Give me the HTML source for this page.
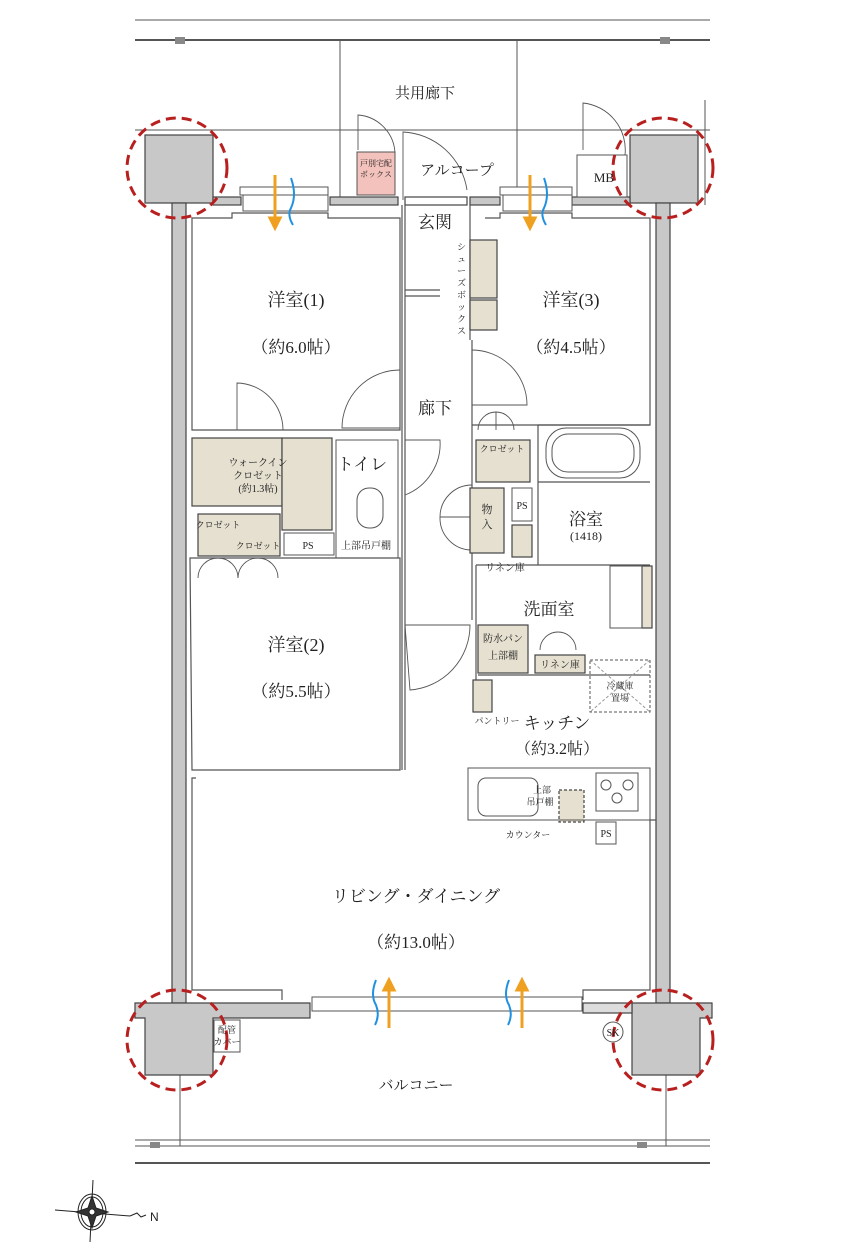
<!DOCTYPE html>
<html><head><meta charset="utf-8"><style>
html,body{margin:0;padding:0;background:#fff}
svg{display:block}
text{font-family:"Liberation Serif","Noto Serif CJK SC",serif;fill:#222}
.s{font-family:"Liberation Sans","Noto Sans CJK JP",sans-serif}
</style></head><body>
<svg width="850" height="1250" viewBox="0 0 850 1250" xmlns="http://www.w3.org/2000/svg">
<g stroke="#555" fill="none" stroke-width="1">
<line x1="135" y1="20" x2="710" y2="20"/><line x1="135" y1="40" x2="710" y2="40" stroke-width="2"/>
<line x1="135" y1="130" x2="710" y2="130"/>
<line x1="340" y1="40" x2="340" y2="200"/><line x1="517" y1="40" x2="517" y2="200"/>
<line x1="705" y1="100" x2="705" y2="205"/>
<line x1="135" y1="1140" x2="710" y2="1140"/><line x1="135" y1="1146" x2="710" y2="1146" stroke="#aaa" stroke-width="2"/>
<line x1="135" y1="1163" x2="710" y2="1163" stroke-width="2"/>
<line x1="180" y1="1075" x2="180" y2="1146"/><line x1="666" y1="1075" x2="666" y2="1146"/>
</g>
<rect x="175" y="37" width="10" height="7" fill="#888"/><rect x="660" y="37" width="10" height="7" fill="#888"/>
<rect x="150" y="1142" width="10" height="6" fill="#888"/><rect x="637" y="1142" width="10" height="6" fill="#888"/>
<g fill="#c8c8c8" stroke="#444" stroke-width="1.2">
<rect x="145" y="135" width="68" height="68"/>
<rect x="630" y="135" width="68" height="68"/>
<rect x="172" y="203" width="14" height="800"/>
<rect x="656" y="203" width="14" height="800"/>
<path d="M135 1003 L310 1003 L310 1018 L213 1018 L213 1075 L145 1075 L145 1018 L135 1018 Z"/>
<path d="M632 1003 L712 1003 L712 1018 L700 1018 L700 1075 L632 1075 Z"/>
<rect x="213" y="197" width="28" height="8"/><rect x="330" y="197" width="68" height="8"/>
<rect x="405" y="197" width="62" height="8" fill="#fff"/>
<rect x="470" y="197" width="30" height="8"/><rect x="572" y="197" width="58" height="8"/>
<rect x="583" y="1003" width="49" height="10" fill="#ddd"/>
</g>
<g stroke="#555" fill="#fff">
<rect x="240" y="187" width="88" height="8"/><rect x="243" y="195" width="85" height="16"/>
<rect x="500" y="187" width="72" height="8"/><rect x="503" y="195" width="69" height="16"/>
<rect x="312" y="997" width="270" height="14"/>
</g>
<g stroke="#555" fill="none" stroke-width="1.2">
<path d="M192 218 L232 218 L232 213 L328 213 L328 218 L400 218 L400 430 L192 430 Z"/>
<path d="M485 218 L500 218 L500 213 L572 213 L572 218 L650 218 L650 425 L540 425 L472 425"/>
<line x1="402" y1="205" x2="402" y2="770"/><line x1="405" y1="205" x2="405" y2="770"/>
<line x1="470" y1="205" x2="470" y2="340"/><line x1="472" y1="340" x2="472" y2="620"/>
<line x1="405" y1="290" x2="440" y2="290"/><line x1="405" y1="296" x2="440" y2="296"/>
<path d="M190 558 L400 558 L400 770 L192 770 Z"/>
<path d="M196 778 L192 778 L192 990 L282 990 L282 1000"/>
<path d="M656 820 L650 820 L650 990 L583 990 L583 1000"/>
<line x1="476" y1="565" x2="650" y2="565"/>
<line x1="476" y1="565" x2="476" y2="680"/>
<line x1="538" y1="425" x2="538" y2="565"/><line x1="538" y1="425" x2="650" y2="425"/>
<line x1="538" y1="482" x2="650" y2="482"/>
<line x1="478" y1="675" x2="650" y2="675"/>
</g>
<g stroke="#555" fill="none" stroke-width="0.9">
<path d="M358 150 L358 115 A40 40 0 0 1 395 155"/><path d="M403 200 L403 132 A68 68 0 0 1 467 190"/>
<path d="M583 150 L583 103 A47 47 0 0 1 625 155"/>
<path d="M400 370 A58 58 0 0 0 342 428 L400 428"/>
<path d="M237 430 L237 383 A47 47 0 0 1 283 430"/>
<path d="M405 440 L440 440 A55 55 0 0 1 405 495"/>
<path d="M472 350 A55 55 0 0 1 527 405 L472 405"/>
<path d="M472 485 A32 32 0 0 0 440 517 L472 517 M472 550 A32 32 0 0 1 440 517"/>
<path d="M405 625 L470 625 A65 65 0 0 1 410 690 Z"/>
<path d="M198 578 A20 20 0 0 1 218 558 A20 20 0 0 1 238 578 M238 578 A20 20 0 0 1 258 558 A20 20 0 0 1 278 578"/>
<path d="M478 430 A18 18 0 0 1 496 412 A18 18 0 0 1 514 430 M496 412 L496 430"/>
<path d="M540 650 A18 18 0 0 1 558 632 A18 18 0 0 1 576 650"/>
</g>
<g fill="#e6e0d0" stroke="#444" stroke-width="1.2">
<rect x="192" y="438" width="90" height="68"/><rect x="282" y="438" width="50" height="92"/>
<rect x="198" y="514" width="82" height="42"/>
<rect x="470" y="240" width="27" height="58"/><rect x="470" y="300" width="27" height="30"/>
<rect x="476" y="440" width="54" height="42"/>
<rect x="470" y="488" width="34" height="65"/><rect x="512" y="525" width="20" height="32"/>
<rect x="478" y="625" width="50" height="48"/><rect x="535" y="655" width="50" height="18"/>
<rect x="473" y="680" width="19" height="32"/>
<rect x="642" y="566" width="10" height="62"/>
<rect x="559" y="790" width="25" height="32" stroke-dasharray="3 2"/>
</g>
<rect x="357" y="152" width="38" height="43" fill="#f4c2bc" stroke="#555"/>
<rect x="577" y="155" width="50" height="42" fill="#fff" stroke="#555"/>
<g fill="none" stroke="#555">
<rect x="284" y="533" width="50" height="22"/><rect x="336" y="440" width="62" height="118"/>
<rect x="512" y="488" width="20" height="33"/><rect x="596" y="822" width="20" height="22"/>
<rect x="468" y="768" width="182" height="52"/><rect x="590" y="660" width="60" height="52" stroke-dasharray="3 2"/>
<path d="M590 660 L650 712 M650 660 L590 712" stroke-dasharray="3 2" stroke="#999"/>
<rect x="596" y="773" width="42" height="38"/>
<circle cx="606" cy="785" r="5"/><circle cx="628" cy="785" r="5"/><circle cx="617" cy="798" r="5"/>
<rect x="546" y="428" width="94" height="50" rx="20"/><rect x="552" y="434" width="82" height="38" rx="16"/>
<rect x="478" y="778" width="60" height="38" rx="8"/>
<rect x="357" y="488" width="26" height="40" rx="12"/>
<rect x="610" y="566" width="32" height="62"/>
<rect x="214" y="1020" width="26" height="32"/>
<circle cx="613" cy="1032" r="10"/>
</g>
<!-- compass -->
<g stroke="#222" fill="none">
<line x1="55" y1="1210" x2="130" y2="1216"/><line x1="93" y1="1180" x2="90" y2="1242"/>
<ellipse cx="92" cy="1212" rx="14" ry="18"/><ellipse cx="92" cy="1212" rx="11" ry="15"/>
<path d="M92 1196 L96 1208 L108 1212 L96 1216 L92 1228 L88 1216 L76 1212 L88 1208 Z" fill="#333"/>
<circle cx="92" cy="1212" r="3" fill="#fff"/>
<path d="M130 1216 L137 1213 L141 1217 L146 1215"/>
</g>
<g fill="none" stroke="#b82020" stroke-width="3" stroke-dasharray="10 6">
<circle cx="177" cy="168" r="50"/><circle cx="663" cy="168" r="50"/>
<circle cx="177" cy="1040" r="50"/><circle cx="663" cy="1040" r="50"/>
</g>
<g stroke="#f0a020" stroke-width="3" fill="#f0a020">
<line x1="275" y1="175" x2="275" y2="218"/><path d="M270 218 L280 218 L275 228Z"/>
<line x1="530" y1="175" x2="530" y2="218"/><path d="M525 218 L535 218 L530 228Z"/>
<line x1="389" y1="990" x2="389" y2="1028"/><path d="M384 990 L394 990 L389 980Z"/>
<line x1="522" y1="990" x2="522" y2="1028"/><path d="M517 990 L527 990 L522 980Z"/>
</g>
<g stroke="#2090e0" stroke-width="2" fill="none">
<path d="M291 178 Q297 195 291 208 Q287 215 293 225"/><path d="M544 178 Q550 195 544 208 Q540 215 546 225"/>
<path d="M376 980 Q370 995 376 1005 Q380 1015 375 1025"/><path d="M509 980 Q503 995 509 1005 Q513 1015 508 1025"/>
</g>
<text x="425" y="98" font-size="15" text-anchor="middle">共用廊下</text>
<text x="457" y="175" font-size="15" text-anchor="middle">アルコープ</text>
<text x="376" y="166" font-size="8" text-anchor="middle">戸別宅配</text>
<text x="376" y="177" font-size="8" text-anchor="middle">ボックス</text>
<text x="604" y="182" font-size="13" text-anchor="middle">MB</text>
<text x="435" y="228" font-size="17" text-anchor="middle">玄関</text>
<text x="435" y="414" font-size="17" text-anchor="middle">廊下</text>
<text x="296" y="306" font-size="18" text-anchor="middle">洋室(1)</text>
<text x="296" y="353" font-size="17" text-anchor="middle">（約6.0帖）</text>
<text x="571" y="306" font-size="18" text-anchor="middle">洋室(3)</text>
<text x="571" y="353" font-size="17" text-anchor="middle">（約4.5帖）</text>
<text x="296" y="651" font-size="18" text-anchor="middle">洋室(2)</text>
<text x="296" y="697" font-size="17" text-anchor="middle">（約5.5帖）</text>
<text x="362" y="470" font-size="17" text-anchor="middle">トイレ</text>
<text x="258" y="466" font-size="10" text-anchor="middle">ウォークイン</text>
<text x="258" y="479" font-size="10" text-anchor="middle">クロゼット</text>
<text x="258" y="492" font-size="10" text-anchor="middle">(約1.3帖)</text>
<text x="218" y="528" font-size="9" text-anchor="middle">クロゼット</text>
<text x="258" y="549" font-size="9" text-anchor="middle">クロゼット</text>
<text x="308" y="549" font-size="10" text-anchor="middle">PS</text>
<text x="366" y="549" font-size="10" text-anchor="middle">上部吊戸棚</text>
<text x="502" y="452" font-size="9" text-anchor="middle">クロゼット</text>
<text x="487" y="513" font-size="11" text-anchor="middle">物</text><text x="487" y="528" font-size="11" text-anchor="middle">入</text>
<text x="522" y="509" font-size="10" text-anchor="middle">PS</text>
<text x="586" y="525" font-size="17" text-anchor="middle">浴室</text>
<text x="586" y="540" font-size="12" text-anchor="middle">(1418)</text>
<text x="505" y="571" font-size="10" text-anchor="middle">リネン庫</text>
<text x="549" y="615" font-size="17" text-anchor="middle">洗面室</text>
<text x="503" y="642" font-size="10" text-anchor="middle">防水パン</text>
<text x="503" y="659" font-size="10" text-anchor="middle">上部棚</text>
<text x="560" y="668" font-size="10" text-anchor="middle">リネン庫</text>
<text x="620" y="689" font-size="9" text-anchor="middle">冷蔵庫</text>
<text x="620" y="701" font-size="9" text-anchor="middle">置場</text>
<text x="497" y="724" font-size="9" text-anchor="middle">パントリー</text>
<text x="557" y="729" font-size="17" text-anchor="middle">キッチン</text>
<text x="557" y="754" font-size="16" text-anchor="middle">（約3.2帖）</text>
<text x="542" y="793" font-size="9" text-anchor="middle">上部</text>
<text x="540" y="805" font-size="9" text-anchor="middle">吊戸棚</text>
<text x="528" y="838" font-size="9" text-anchor="middle">カウンター</text>
<text x="606" y="837" font-size="10" text-anchor="middle">PS</text>
<text x="416" y="902" font-size="17" text-anchor="middle">リビング・ダイニング</text>
<text x="416" y="948" font-size="17" text-anchor="middle">（約13.0帖）</text>
<text x="227" y="1033" font-size="9" text-anchor="middle">配管</text>
<text x="227" y="1045" font-size="9" text-anchor="middle">カバー</text>
<text x="613" y="1036" font-size="10" text-anchor="middle">SK</text>
<text x="416" y="1090" font-size="15" text-anchor="middle">バルコニー</text>
<g font-size="9"><text x="457" y="250">シ</text><text x="457" y="262">ュ</text><text x="457" y="274">ー</text><text x="457" y="286">ズ</text><text x="457" y="298">ボ</text><text x="457" y="310">ッ</text><text x="457" y="322">ク</text><text x="457" y="334">ス</text></g>
<text x="150" y="1221" font-size="12" class="s">N</text>
</svg>
</body></html>
